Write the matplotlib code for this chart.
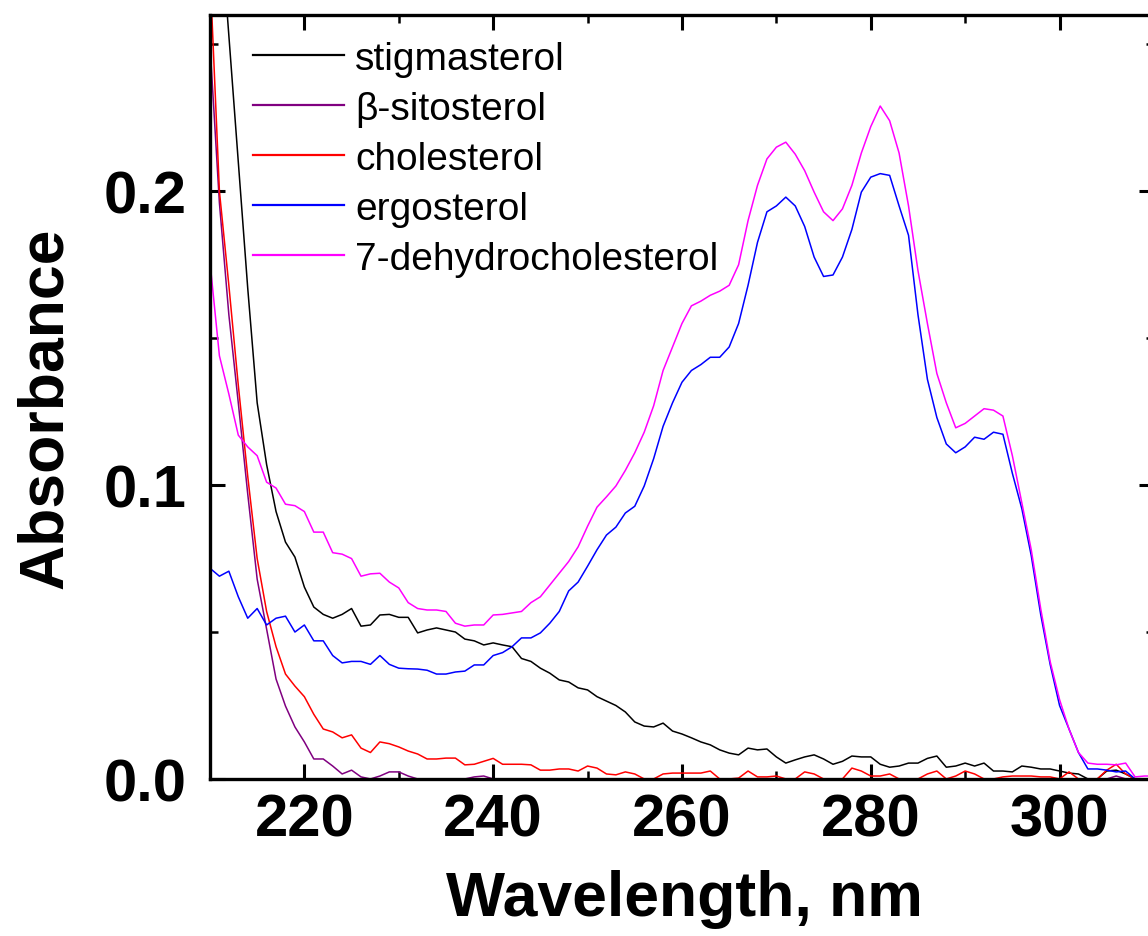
import numpy as np
import matplotlib
matplotlib.use("Agg")
from matplotlib import pyplot as plt
from matplotlib.ticker import MultipleLocator

plt.rcParams["font.family"] = ["Liberation Sans", "DejaVu Sans"]

# Wavelength grid of the spectra (nm)
wavelength = np.arange(210, 311)

stigmasterol = [
    0.330, 0.296, 0.253, 0.210, 0.167, 0.128, 0.107, 0.091, 0.0806, 0.0755,
    0.0653, 0.0585, 0.056, 0.0547, 0.056, 0.058, 0.052, 0.0524, 0.0558, 0.056,
    0.055, 0.055, 0.0497, 0.0507, 0.0514, 0.0507, 0.050, 0.0476, 0.047, 0.0456,
    0.0463, 0.0456, 0.045, 0.041, 0.040, 0.0377, 0.036, 0.0337, 0.033, 0.031,
    0.0303, 0.028, 0.0265, 0.025, 0.0228, 0.0194, 0.018, 0.0177, 0.019, 0.0163,
    0.0153, 0.014, 0.0126, 0.0116, 0.0099, 0.0088, 0.0082, 0.0105, 0.0099, 0.0102,
    0.0075, 0.0054, 0.0065, 0.0075, 0.0082, 0.0068, 0.005, 0.006, 0.0078, 0.0075,
    0.0075, 0.005, 0.004, 0.0044, 0.0054, 0.0054, 0.007, 0.0078, 0.004, 0.0044,
    0.0054, 0.0044, 0.0054, 0.0027, 0.0027, 0.0024, 0.0044, 0.004, 0.0034, 0.0034,
    0.0027, 0.002, 0.0017, 0.0, 0.0, 0.0027, 0.003, 0.0017, 0.0, 0.0, 0.0,
]

sitosterol = [
    0.250, 0.196, 0.158, 0.128, 0.097, 0.068, 0.051, 0.034, 0.0248, 0.0177,
    0.0126, 0.0068, 0.0068, 0.0044, 0.0017, 0.003, 0.0007, 0.0, 0.001, 0.0024,
    0.0024, 0.001, 0.0, 0.0, 0.0, 0.0, 0.0, 0.0, 0.0007, 0.001,
    0.0, 0.0, 0.0, 0.0, 0.0, 0.0, 0.0, 0.0, 0.0, 0.0,
    0.0, 0.0, 0.0, 0.0, 0.0, 0.0, 0.0, 0.0, 0.0, 0.0,
    0.0, 0.0, 0.0, 0.0, 0.0, 0.0, 0.0, 0.0, 0.0, 0.0,
    0.0, 0.0, 0.0, 0.0, 0.0, 0.0, 0.0, 0.0, 0.0, 0.0,
    0.0, 0.0, 0.0, 0.0, 0.0, 0.0, 0.0, 0.0, 0.0, 0.0,
    0.0, 0.0, 0.0, 0.0, 0.0, 0.0, 0.0, 0.0, 0.0, 0.0,
    0.0, 0.0, 0.0, 0.0, 0.0, 0.0, 0.001, 0.0, 0.0, 0.0, 0.0,
]

cholesterol = [
    0.275, 0.200, 0.168, 0.134, 0.103, 0.075, 0.057, 0.045, 0.0357, 0.0316,
    0.028, 0.022, 0.017, 0.016, 0.014, 0.015, 0.0105, 0.009, 0.0126, 0.012,
    0.0109, 0.0095, 0.0085, 0.0068, 0.0068, 0.0071, 0.0071, 0.0048, 0.005, 0.006,
    0.007, 0.005, 0.005, 0.005, 0.0048, 0.003, 0.003, 0.0034, 0.0034, 0.0027,
    0.0044, 0.0037, 0.0017, 0.0014, 0.0024, 0.0017, 0.0, 0.0, 0.0017, 0.002,
    0.002, 0.002, 0.002, 0.0027, 0.0, 0.0, 0.0003, 0.0027, 0.0007, 0.0007,
    0.001, 0.0, 0.0, 0.0024, 0.0017, 0.0, 0.0, 0.0, 0.0037, 0.0027,
    0.001, 0.001, 0.0017, 0.0, 0.0, 0.0, 0.0017, 0.0027, 0.0, 0.001,
    0.0027, 0.0017, 0.0, 0.0, 0.0007, 0.001, 0.001, 0.001, 0.0007, 0.0007,
    0.0, 0.0024, 0.0, 0.0, 0.0, 0.003, 0.005, 0.0017, 0.0, 0.0, 0.0,
]

ergosterol = [
    0.0717, 0.069, 0.0707, 0.062, 0.0547, 0.058, 0.0524, 0.0547, 0.0554, 0.050,
    0.0524, 0.047, 0.047, 0.042, 0.0395, 0.040, 0.040, 0.039, 0.042, 0.039,
    0.0377, 0.0375, 0.0374, 0.037, 0.0357, 0.0357, 0.0364, 0.0367, 0.0388, 0.0388,
    0.042, 0.043, 0.045, 0.048, 0.048, 0.0497, 0.053, 0.057, 0.064, 0.067,
    0.0724, 0.078, 0.083, 0.0857, 0.0905, 0.0928, 0.0997, 0.109, 0.120, 0.128,
    0.135, 0.139, 0.141, 0.1435, 0.1435, 0.147, 0.155, 0.168, 0.1826, 0.193,
    0.195, 0.198, 0.195, 0.188, 0.1776, 0.171, 0.1715, 0.1776, 0.187, 0.1997,
    0.2048, 0.206, 0.2054, 0.195, 0.185, 0.158, 0.136, 0.123, 0.114, 0.111,
    0.113, 0.1163, 0.1156, 0.118, 0.1173, 0.104, 0.092, 0.076, 0.056, 0.039,
    0.025, 0.017, 0.009, 0.0034, 0.0034, 0.003, 0.0024, 0.0027, 0.0, 0.0, 0.0,
]

dehydrocholesterol = [
    0.176, 0.144, 0.131, 0.117, 0.113, 0.110, 0.101, 0.099, 0.0935, 0.093,
    0.091, 0.084, 0.084, 0.077, 0.0765, 0.075, 0.069, 0.0698, 0.070, 0.067,
    0.065, 0.060, 0.058, 0.0575, 0.0575, 0.057, 0.053, 0.052, 0.0524, 0.0524,
    0.0558, 0.056, 0.0565, 0.057, 0.060, 0.062, 0.066, 0.070, 0.074, 0.079,
    0.086, 0.0925, 0.096, 0.0997, 0.105, 0.111, 0.118, 0.127, 0.139, 0.147,
    0.155, 0.161, 0.1626, 0.1646, 0.166, 0.168, 0.175, 0.190, 0.202, 0.211,
    0.215, 0.2167, 0.2126, 0.207, 0.1997, 0.193, 0.190, 0.194, 0.202, 0.213,
    0.222, 0.229, 0.224, 0.213, 0.195, 0.173, 0.155, 0.138, 0.128, 0.1195,
    0.121, 0.1235, 0.126, 0.1255, 0.1235, 0.110, 0.094, 0.078, 0.058, 0.040,
    0.027, 0.017, 0.009, 0.0054, 0.005, 0.005, 0.0048, 0.0054, 0.0007, 0.001, 0.001,
]

series = [
    (stigmasterol, "stigmasterol", "#000000"),
    (sitosterol, "\u03b2-sitosterol", "#800080"),
    (cholesterol, "cholesterol", "#ff0000"),
    (ergosterol, "ergosterol", "#0000ff"),
    (dehydrocholesterol, "7-dehydrocholesterol", "#ff00ff"),
]

fig = plt.figure(figsize=(11.48, 9.37), dpi=100)
# axes run slightly past the right edge, as in the original figure
ax = fig.add_axes([0.1829, 0.1676, 0.8223, 0.8154])

for values, label, color in series:
    ax.plot(wavelength, values, color=color, lw=1.1, label=label)

ax.set_xlim(210, 310)
ax.set_ylim(0, 0.26)
ax.xaxis.set_major_locator(MultipleLocator(20))
ax.xaxis.set_minor_locator(MultipleLocator(10))
ax.yaxis.set_major_locator(MultipleLocator(0.1))
ax.yaxis.set_minor_locator(MultipleLocator(0.05))
ax.set_xticks([220, 240, 260, 280, 300])
ax.set_yticks([0.0, 0.1, 0.2])
ax.set_yticklabels(["0.0", "0.1", "0.2"])

for side in ax.spines.values():
    side.set_linewidth(2.4)
ax.tick_params(which="both", direction="in", top=True, right=True)
ax.tick_params(which="major", length=11, width=2.2)
ax.tick_params(which="minor", length=6, width=1.8)
ax.tick_params(axis="x", which="major", pad=10)
ax.tick_params(axis="y", which="major", pad=17)
for lab in ax.get_xticklabels() + ax.get_yticklabels():
    lab.set_fontsize(43)
    lab.set_fontweight("bold")

ax.set_xlabel("Wavelength, nm", fontsize=45, fontweight="bold")
ax.set_ylabel("Absorbance", fontsize=45, fontweight="bold")
ax.xaxis.set_label_coords(0.503, -0.118)
ax.yaxis.set_label_coords(-0.143, 0.486)

leg = ax.legend(loc="upper left", bbox_to_anchor=(253 / 1148, 1 - 42 / 937),
                bbox_transform=fig.transFigure, frameon=False, fontsize=28,
                handlelength=2.33, handletextpad=0.3, labelspacing=0.36,
                borderpad=0, borderaxespad=0)
for line in leg.get_lines():
    line.set_linewidth(1.6)

fig.savefig("out.png", dpi=100)
